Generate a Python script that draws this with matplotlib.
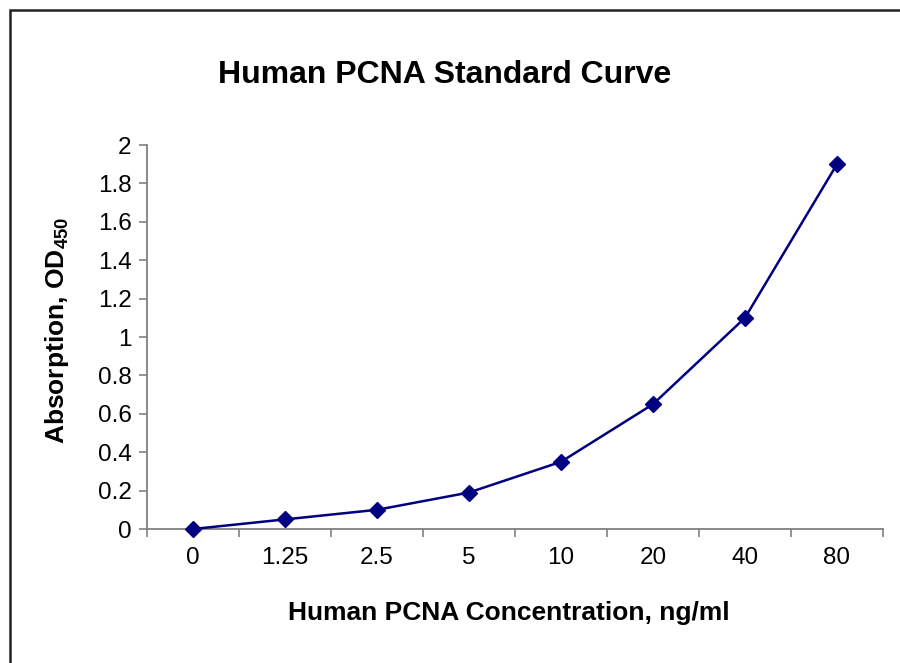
import matplotlib
matplotlib.use("Agg")
import matplotlib.pyplot as plt
from matplotlib.patches import Rectangle
import numpy as np

categories = ["0", "1.25", "2.5", "5", "10", "20", "40", "80"]
absorbance = [0.0, 0.05, 0.10, 0.19, 0.35, 0.65, 1.10, 1.90]
yticks = [0, 0.2, 0.4, 0.6, 0.8, 1.0, 1.2, 1.4, 1.6, 1.8, 2.0]
ytick_labels = ["0", "0.2", "0.4", "0.6", "0.8", "1", "1.2", "1.4", "1.6", "1.8", "2"]

plt.rcParams['font.family'] = ['Liberation Sans', 'DejaVu Sans']
plt.rcParams['mathtext.fontset'] = 'custom'
plt.rcParams['mathtext.rm'] = 'Liberation Sans'
plt.rcParams['mathtext.bf'] = 'Liberation Sans:bold'

W, H = 900, 663
fig = plt.figure(figsize=(W / 100, H / 100), dpi=100)
ax = fig.add_axes([147 / W, 1 - 529 / H, (883 - 147) / W, (529 - 145) / H])

x = np.arange(len(categories))
ax.plot(x, absorbance, color='#000080', lw=1.8, marker='D', markersize=8.5,
        markerfacecolor='#000080', markeredgecolor='#000080', clip_on=False, zorder=3)

ax.set_xlim(-0.5, len(categories) - 0.5)
ax.set_ylim(0, 2)

spine_c = '#808080'
for s in ['top', 'right']:
    ax.spines[s].set_visible(False)
for s in ['left', 'bottom']:
    ax.spines[s].set_color(spine_c)
    ax.spines[s].set_linewidth(1.3)

ax.set_yticks(yticks)
ax.set_yticklabels(ytick_labels, fontsize=17.5)
ax.tick_params(axis='y', direction='out', length=6, width=1.2, color=spine_c, pad=5)

ax.set_xticks(np.arange(-0.5, len(categories), 1.0))
ax.set_xticklabels([])
ax.tick_params(axis='x', which='major', direction='out', length=6, width=1.2, color=spine_c)
ax.set_xticks(x, minor=True)
ax.set_xticklabels(categories, minor=True, fontsize=17.5)
ax.tick_params(axis='x', which='minor', length=0, pad=13)

fig.text(445 / W, 1 - 75 / H, "Human PCNA Standard Curve", ha='center', va='center',
         fontsize=23, fontweight='bold')
fig.text(509 / W, 1 - 613 / H, "Human PCNA Concentration, ng/ml", ha='center', va='center',
         fontsize=19, fontweight='bold')
fig.text(57 / W, 1 - 330 / H, r"Absorption, OD$_{\mathbf{450}}$", ha='center', va='center',
         rotation=90, fontsize=19, fontweight='bold')

fig.patches.append(Rectangle((10 / W, -0.05), 1.1, 1 - 10 / H + 0.05, transform=fig.transFigure,
                             fill=False, edgecolor='#222222', lw=1.8, figure=fig))

fig.savefig("out.png", dpi=100)
